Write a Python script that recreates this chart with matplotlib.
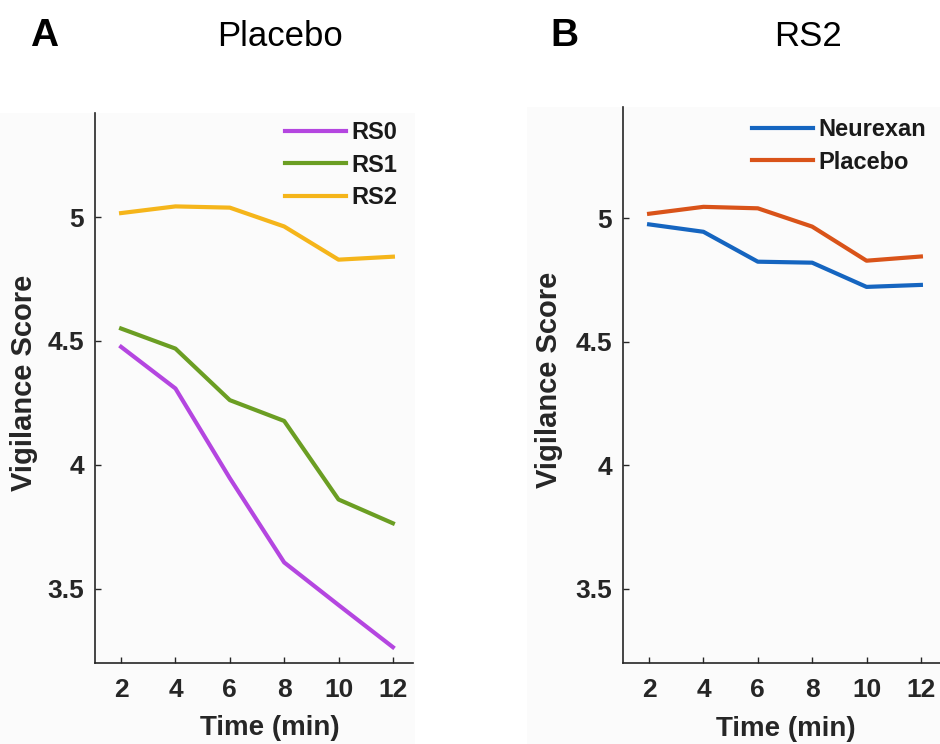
import matplotlib
matplotlib.use("Agg")
import matplotlib.pyplot as plt
from matplotlib.patches import Rectangle

plt.rcParams['font.family'] = ['Liberation Sans', 'DejaVu Sans']

# vigilance scores over time
time_min = [2, 4, 6, 8, 10, 12]
rs0 = [4.476, 4.308, 3.946, 3.606, 3.434, 3.264]
rs1 = [4.550, 4.469, 4.261, 4.177, 3.860, 3.764]
rs2 = [5.016, 5.043, 5.038, 4.962, 4.828, 4.840]
neurexan = [4.975, 4.945, 4.824, 4.820, 4.722, 4.730]
placebo = [5.018, 5.046, 5.040, 4.966, 4.828, 4.845]

x_ticks = [2, 4, 6, 8, 10, 12]
y_ticks = [3.5, 4, 4.5, 5]
y_ticklabels = ['3.5', '4', '4.5', '5']

dark = '#262626'
W, H = 940, 744

fig = plt.figure(figsize=(9.4, 7.44), dpi=100)

# faint panel backgrounds
fig.patches.append(Rectangle((0, 0), 415 / W, (H - 113) / H, transform=fig.transFigure,
                             facecolor='#fbfbfb', edgecolor='none', zorder=-10))
fig.patches.append(Rectangle((527 / W, 0), (W - 527) / W, (H - 107) / H, transform=fig.transFigure,
                             facecolor='#fbfbfb', edgecolor='none', zorder=-10))


def style_axes(ax, ylim, xlabel_x, ylabel_x):
    ax.set_facecolor('none')
    ax.set_xlim(1.04, 12.74)
    ax.set_ylim(*ylim)
    ax.spines['top'].set_visible(False)
    ax.spines['right'].set_visible(False)
    for s in ('left', 'bottom'):
        ax.spines[s].set_color(dark)
        ax.spines[s].set_linewidth(1.2)
    ax.set_xticks(x_ticks)
    ax.set_yticks(y_ticks)
    ax.set_yticklabels(y_ticklabels)
    ax.tick_params(axis='both', direction='in', length=4, width=1, color=dark,
                   labelsize=19, labelcolor=dark)
    ax.tick_params(axis='x', pad=11)
    ax.tick_params(axis='y', pad=8)
    for lab in ax.get_xticklabels() + ax.get_yticklabels():
        lab.set_fontweight('bold')
    ax.set_xlabel('Time (min)', fontsize=20, fontweight='bold', color=dark)
    ax.set_ylabel('Vigilance Score', fontsize=21, fontweight='bold', color=dark)
    ax.xaxis.set_label_coords(xlabel_x, -0.095)
    ax.yaxis.set_label_coords(ylabel_x, 0.51)


def add_legend(ax, anchor):
    leg = ax.legend(loc='upper left', bbox_to_anchor=anchor, frameon=False,
                    handlelength=2.6, handletextpad=0.2, labelspacing=0.4,
                    borderpad=0, borderaxespad=0,
                    prop={'size': 17, 'weight': 'bold'})
    for t in leg.get_texts():
        t.set_color('#1a1a1a')
    return leg


# panel A: placebo across resting states
ax1 = fig.add_axes([95 / W, 1 - 663 / H, 318 / W, 550 / H])
ax1.plot(time_min, rs0, color='#b446e0', lw=3, label='RS0')
ax1.plot(time_min, rs1, color='#6b9e23', lw=3, label='RS1')
ax1.plot(time_min, rs2, color='#f5b51a', lw=3, label='RS2')
style_axes(ax1, (3.2, 5.42), 0.55, -0.18)
add_legend(ax1, (0.597, 0.985))

# panel B: RS2, Neurexan vs placebo
ax2 = fig.add_axes([623 / W, 1 - 663 / H, 318 / W, 556 / H])
ax2.plot(time_min, neurexan, color='#1565c0', lw=3, label='Neurexan')
ax2.plot(time_min, placebo, color='#d95319', lw=3, label='Placebo')
style_axes(ax2, (3.2, 5.45), 0.513, -0.188)
add_legend(ax2, (0.406, 0.98))

# panel letters and titles
fig.text(30 / W, 1 - 36 / H, 'A', fontsize=28, fontweight='bold', ha='left', va='center')
fig.text(280 / W, 1 - 36 / H, 'Placebo', fontsize=25, ha='center', va='center')
fig.text(550 / W, 1 - 36 / H, 'B', fontsize=28, fontweight='bold', ha='left', va='center')
fig.text(808 / W, 1 - 36 / H, 'RS2', fontsize=25, ha='center', va='center')

fig.savefig('out.png', dpi=100)
